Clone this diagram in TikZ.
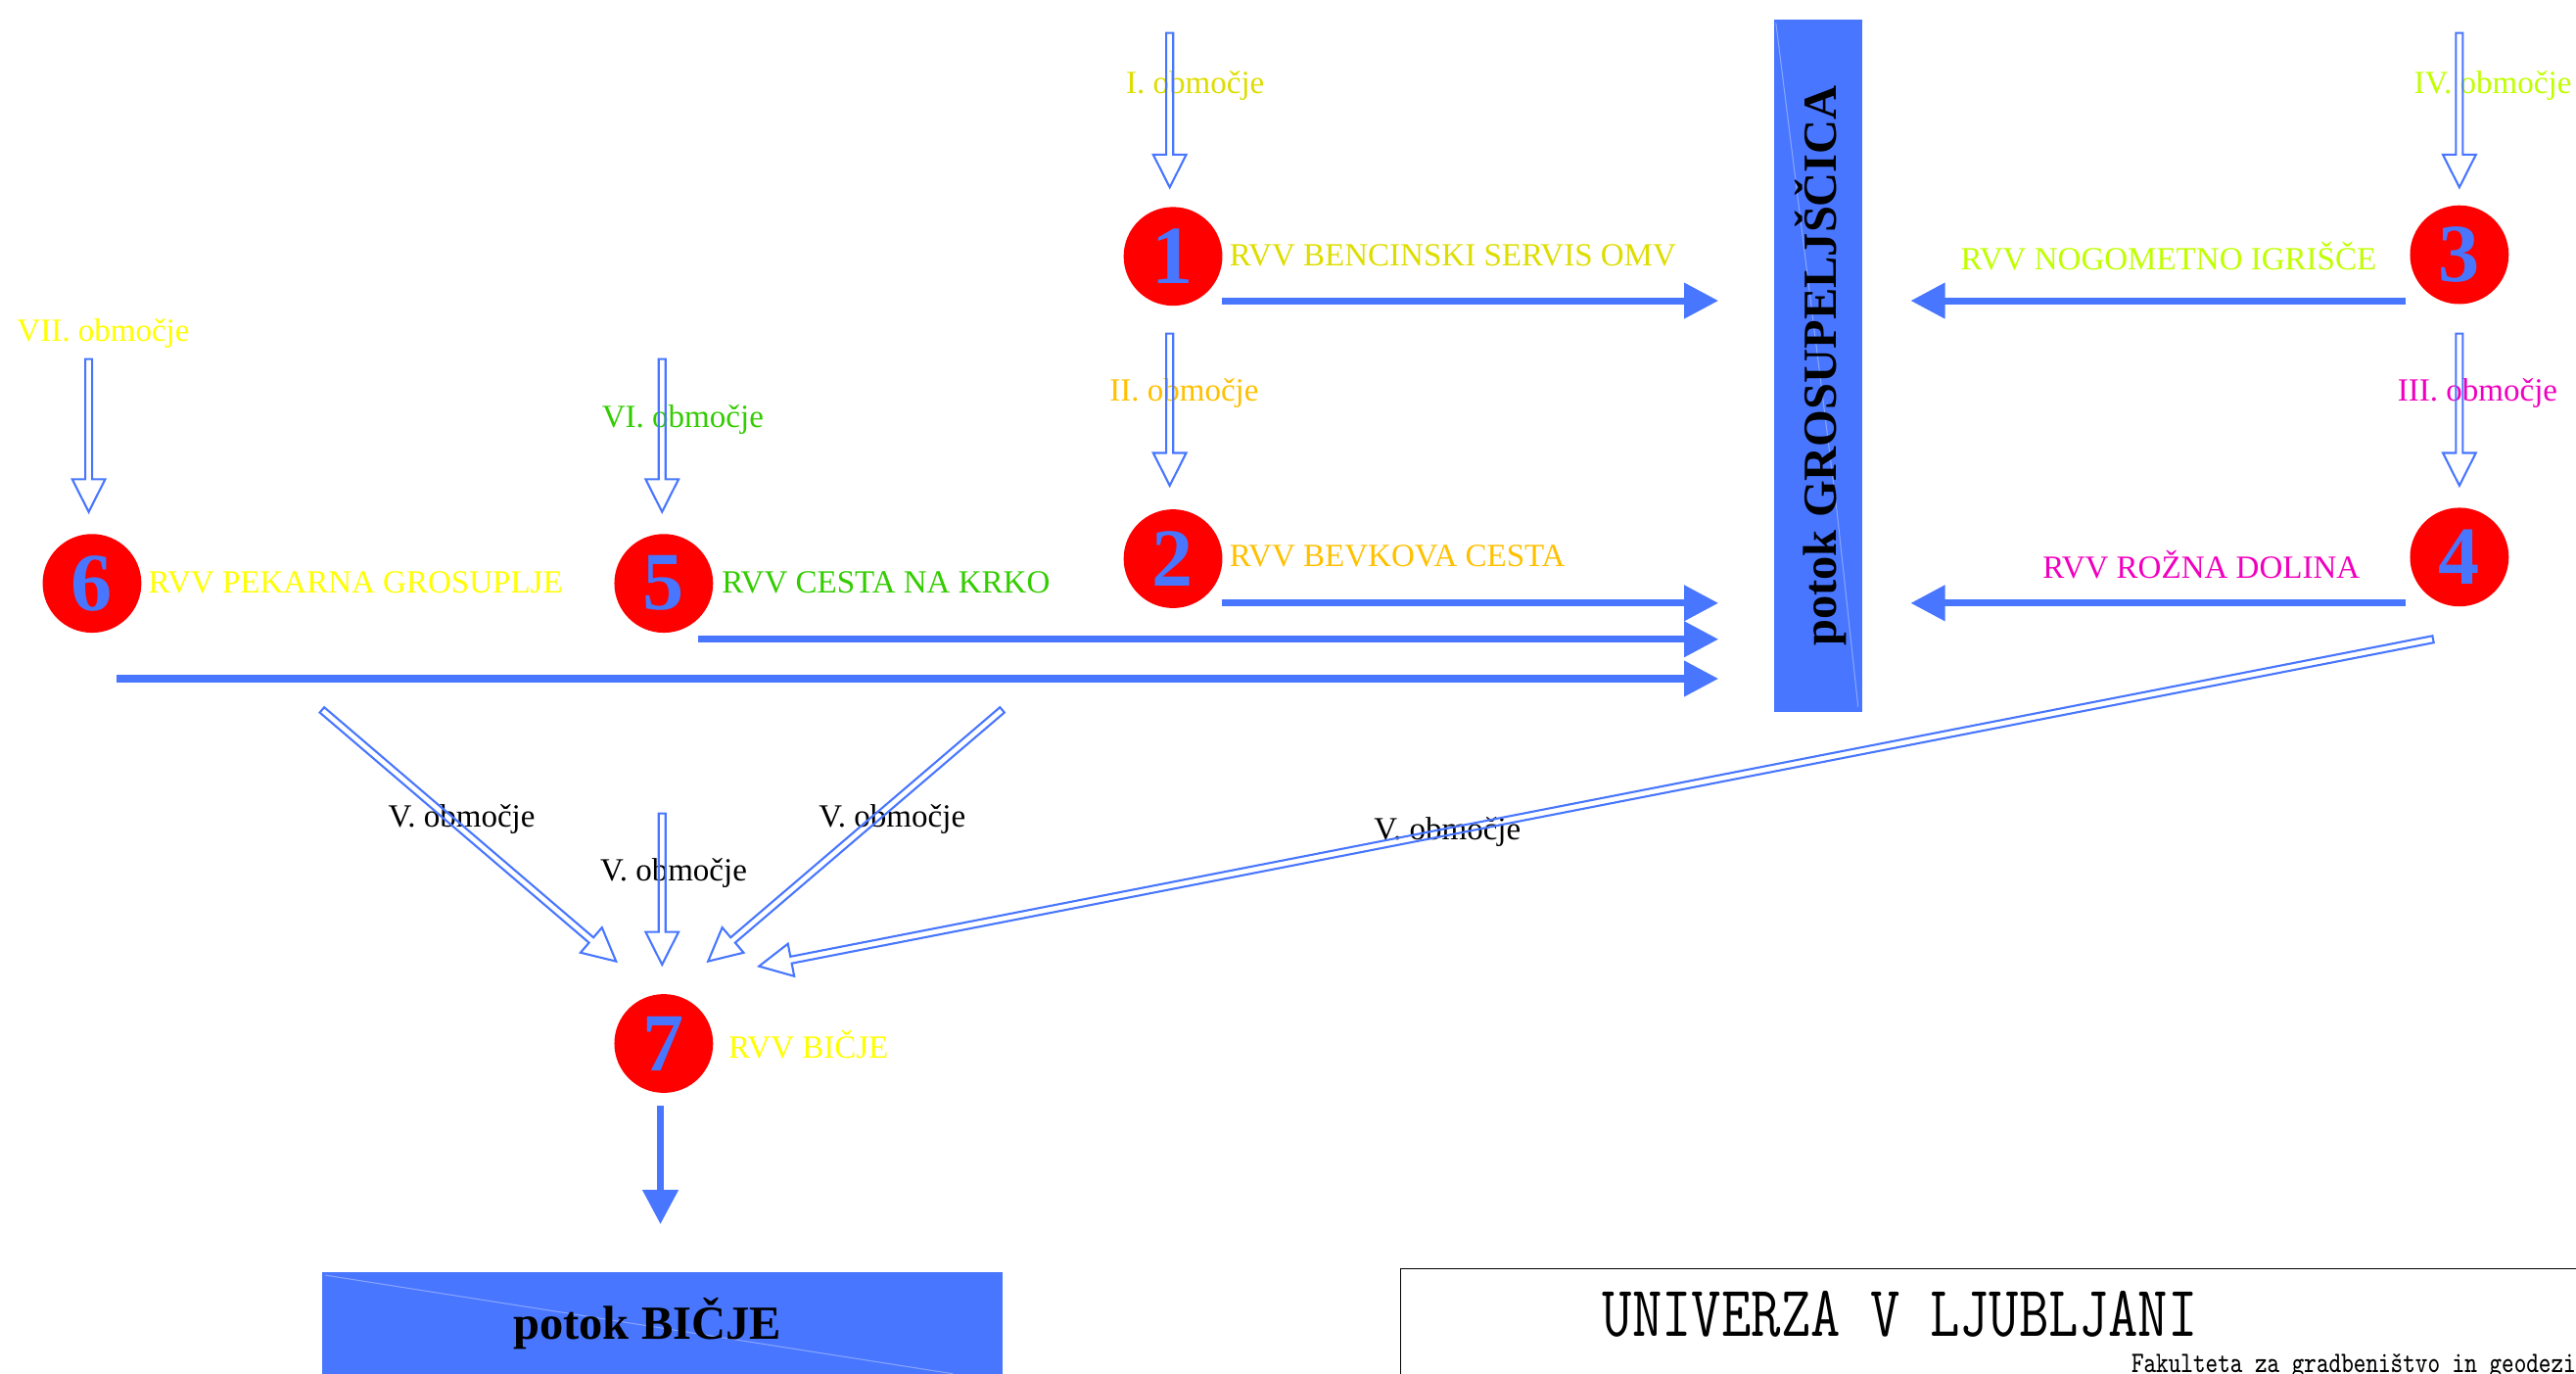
\documentclass[tikz,border=0pt]{standalone}
\usepackage{fontspec}
\setmainfont{Liberation Serif}
\usetikzlibrary{arrows.meta,calc}
\definecolor{rvblue}{RGB}{72,118,255}
\definecolor{cI}{RGB}{221,221,0}
\definecolor{cII}{RGB}{255,192,0}
\definecolor{cIV}{RGB}{191,255,0}
\definecolor{cIII}{RGB}{240,0,190}
\definecolor{cVII}{RGB}{255,255,0}
\definecolor{cVI}{RGB}{51,204,0}
\newcommand\hollowarrow[2]{%
  \coordinate (ha-b) at ($(#2)!9.5pt!(#1)$);
  \draw[hollowline] ($(#1)!1pt!90:(#2)$) -- ($(ha-b)!1pt!90:(#2)$) -- ($(ha-b)!4.8pt!90:(#2)$) -- (#2)
    -- ($(ha-b)!4.8pt!-90:(#2)$) -- ($(ha-b)!1pt!-90:(#2)$) -- ($(#1)!1pt!-90:(#2)$) -- cycle;
}
\tikzset{
  rvv/.style={circle, fill=red, minimum size=28.7pt, inner sep=0pt, text=rvblue,
    font=\fontsize{24}{24}\selectfont\bfseries},
  lbl/.style={anchor=base west, inner sep=0pt, font=\fontsize{9.4}{11}\selectfont},
  hollowline/.style={draw=rvblue, line width=0.6pt, line join=miter},
  flow/.style={draw=rvblue, line width=2pt, -{Triangle[length=10pt,width=10pt]}},
  river/.style={fill=rvblue},
  sheen/.style={draw=white, opacity=0.35, line width=0.3pt},
  bigtitle/.style={inner sep=0pt, font=\fontsize{13.8}{14}\selectfont\bfseries},
}
\begin{document}
\begin{tikzpicture}[x=0.016779cm, y=-0.016779cm]
\useasboundingbox (0,0) rectangle (1568,836);
\clip (0,0) rectangle (1568,836);

% rivers
\fill[river] (1080,12) rectangle (1133.5,433);
\draw[sheen] (1081,14) -- (1118,310) -- (1131,430);
\node[bigtitle, rotate=90] (gros) at (1108,222.5) {potok GROSUPELJŠČICA};
\fill[river] (196,774) rectangle (610,860);
\draw[sheen] (198,776) -- (580,836);
\node[bigtitle, anchor=base] (bicje) at (394,815) {potok BIČJE};

% title block
\draw[line width=0.5pt] (852.5,900) -- (852.5,772) -- (1600,772);
\node[inner sep=0pt, anchor=base west, font=\ttfamily\fontsize{21}{22}\selectfont] (uni) at (975,813)
  {\scalebox{0.80}[1]{UNIVERZA V LJUBLJANI}};
\node[inner sep=0pt, anchor=base west, font=\ttfamily\fontsize{8.65}{9}\selectfont] (fgg) at (1297,835)
  {\scalebox{0.79}[1]{Fakulteta za gradbeništvo in geodezi}};

% stations
\node[rvv] (n1) at (714,156) {1};
\node[rvv] (n2) at (714,340) {2};
\node[rvv] (n3) at (1497,155) {3};
\node[rvv] (n4) at (1497,339) {4};
\node[rvv] (n5) at (404,355) {5};
\node[rvv] (n6) at (56,355) {6};
\node[rvv] (n7) at (404,635) {7};

% station labels
\node[lbl, text=cI] (l1) at (748,162) {RVV BENCINSKI SERVIS OMV};
\node[lbl, text=cII] (l2) at (748,345) {RVV BEVKOVA CESTA};
\node[lbl, text=cIV] (l3) at (1193,164) {RVV NOGOMETNO IGRIŠČE};
\node[lbl, text=cIII] (l4) at (1243,352) {RVV ROŽNA DOLINA};
\node[lbl, text=cVI] (l5) at (439,361) {RVV CESTA NA KRKO};
\node[lbl, text=cVII] (l6) at (90,361) {RVV PEKARNA GROSUPLJE};
\node[lbl, text=cVII] (l7) at (443,644) {RVV BIČJE};

% area labels
\node[lbl, text=cI] (aI) at (685,57) {I. območje};
\node[lbl, text=cII] (aII) at (675,244) {II. območje};
\node[lbl, text=cIV] (aIV) at (1469,57) {IV. območje};
\node[lbl, text=cIII] (aIII) at (1459,244) {III. območje};
\node[lbl, text=cVII] (aVII) at (10,207.5) {VII. območje};
\node[lbl, text=cVI] (aVI) at (366,260) {VI. območje};
\node[lbl] (aVa) at (236,503) {V. območje};
\node[lbl] (aVb) at (365,536) {V. območje};
\node[lbl] (aVc) at (498,503) {V. območje};
\node[lbl] (aVd) at (836,511) {V. območje};

% hollow inflow arrows
\coordinate (sI) at (712,20);     \coordinate (eI) at (712,114);
\coordinate (sII) at (712,203);   \coordinate (eII) at (712,295.5);
\coordinate (sIV) at (1497,20);   \coordinate (eIV) at (1497,114);
\coordinate (sIII) at (1497,203); \coordinate (eIII) at (1497,295.5);
\coordinate (sVII) at (54,218.5); \coordinate (eVII) at (54,311.5);
\coordinate (sVI) at (403,218.5); \coordinate (eVI) at (403,311.5);
\coordinate (sVa) at (196,432);   \coordinate (eVa) at (375,585);
\coordinate (sVb) at (403,495);   \coordinate (eVb) at (403,587);
\coordinate (sVc) at (610,432);   \coordinate (eVc) at (431,585);
\coordinate (sVd) at (1481,389);  \coordinate (eVd) at (462,588);
\hollowarrow{sI}{eI}
\hollowarrow{sII}{eII}
\hollowarrow{sIV}{eIV}
\hollowarrow{sIII}{eIII}
\hollowarrow{sVII}{eVII}
\hollowarrow{sVI}{eVI}
\hollowarrow{sVa}{eVa}
\hollowarrow{sVb}{eVb}
\hollowarrow{sVc}{eVc}
\hollowarrow{sVd}{eVd}

% outflow arrows
\coordinate (o1) at (744,183);  \coordinate (g1) at (1046,183);
\coordinate (o3) at (1464,183); \coordinate (g3) at (1163,183);
\coordinate (o2) at (744,367);  \coordinate (g2) at (1046,367);
\coordinate (o4) at (1464,367); \coordinate (g4) at (1163,367);
\coordinate (o5) at (425,389);  \coordinate (g5) at (1046,389);
\coordinate (o6) at (71,413);   \coordinate (g6) at (1046,413);
\coordinate (o7) at (402,673);  \coordinate (g7) at (402,745);
\draw[flow] (o1) -- (g1);
\draw[flow] (o3) -- (g3);
\draw[flow] (o2) -- (g2);
\draw[flow] (o4) -- (g4);
\draw[flow] (o5) -- (g5);
\draw[flow] (o6) -- (g6);
\draw[flow] (o7) -- (g7);
\end{tikzpicture}
\end{document}
